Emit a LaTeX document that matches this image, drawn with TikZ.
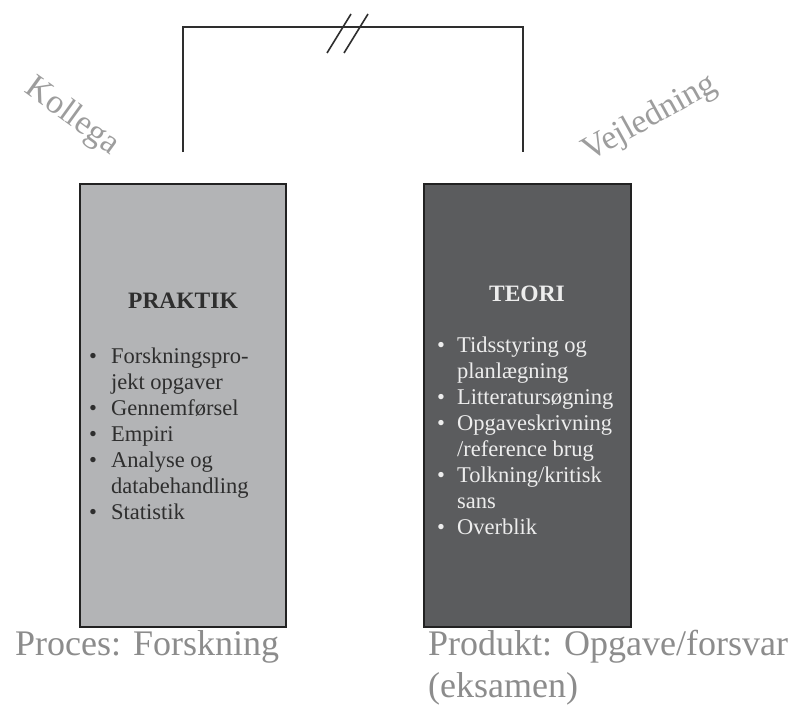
\documentclass[tikz,border=0pt]{standalone}
\usepackage{fontspec}
\setmainfont{Liberation Serif}
\definecolor{boxlight}{HTML}{B3B4B6}
\definecolor{boxdark}{HTML}{5B5C5E}
\definecolor{edge}{HTML}{222222}
\definecolor{labelgray}{HTML}{8C8C8C}
\definecolor{darktext}{HTML}{2E2E2E}
\definecolor{lighttext}{HTML}{EDEDED}
\tikzset{
  panel/.style={draw=edge, line width=2.6pt},
  bracket/.style={draw=darktext, line width=1.6pt},
  sidelabel/.style={text=labelgray!85, font=\fontsize{34}{36}\selectfont, inner sep=0pt},
  bottomlabel/.style={text=labelgray, font=\fontsize{36}{42}\selectfont, inner sep=0pt, anchor=base west},
  titletext/.style={font=\bfseries\fontsize{23.5}{26}\selectfont, inner sep=0pt, anchor=base},
  listtext/.style={font=\fontsize{22.5}{26}\selectfont, inner sep=0pt, anchor=base west}
}
\begin{document}
\begin{tikzpicture}[x=1pt,y=-1pt]
\useasboundingbox[fill=white] (0,0) rectangle (800,707);
% bracket
\coordinate (bl) at (183,152);
\coordinate (tl) at (183,27);
\coordinate (tr) at (523,27);
\coordinate (br) at (523,152);
\draw[bracket] (bl) -- (tl) -- (tr) -- (br);
\coordinate (s1a) at (327,53); \coordinate (s1b) at (351,14);
\coordinate (s2a) at (344,53); \coordinate (s2b) at (368,14);
\draw[bracket] (s1a) -- (s1b);
\draw[bracket] (s2a) -- (s2b);
% side labels
\node[sidelabel, rotate=-36] (kollega) at (72,117) {Kollega};
\node[sidelabel, rotate=29] (vejledning) at (650,119) {Vejledning};
% boxes
\draw[panel, fill=boxlight] (80,184) rectangle (286,627);
\draw[panel, fill=boxdark] (424,184) rectangle (631,627);
% titles
\node[titletext, text=darktext] (praktik) at (183,308) {PRAKTIK};
\node[titletext, text=lighttext] (teori) at (527,301) {TEORI};
% lists
\node[listtext, text=darktext] (plist) at (89,363) {%
\begin{tabular}[t]{@{}l@{\hspace{14pt}}l@{}}
•&Forskningspro-\\
&jekt opgaver\\
•&Gennemførsel\\
•&Empiri\\
•&Analyse og\\
&databehandling\\
•&Statistik
\end{tabular}};
\node[listtext, text=lighttext] (tlist) at (437,352) {%
\begin{tabular}[t]{@{}l@{\hspace{12pt}}l@{}}
•&Tidsstyring og\\
&planlægning\\
•&Litteratursøgning\\
•&Opgaveskrivning\\
&/reference brug\\
•&Tolkning/kritisk\\
&sans\\
•&Overblik
\end{tabular}};
% bottom labels
\node[bottomlabel] (proces) at (15,655) {Proces: Forskning};
\node[bottomlabel] (produkt) at (428,655) {Produkt: Opgave/forsvar};
\node[bottomlabel] (eksamen) at (428,697) {(eksamen)};
\end{tikzpicture}
\end{document}
